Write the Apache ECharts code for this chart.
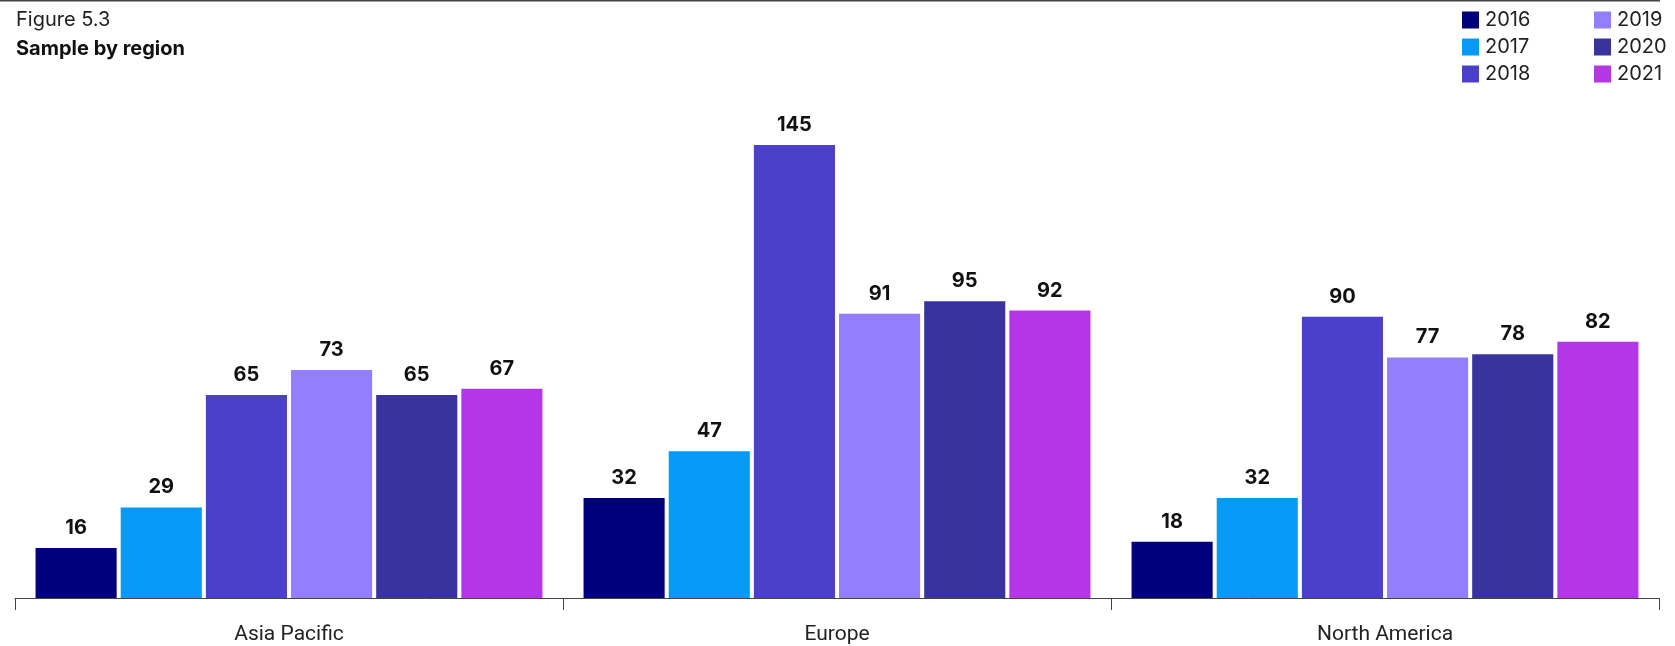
<!DOCTYPE html>
<html><head><meta charset="utf-8">
<script src="https://cdn.jsdelivr.net/npm/echarts@6/dist/echarts.min.js"></script>
<style>html,body{margin:0;padding:0;background:#fff}#c{width:1675px;height:646px}</style>
</head><body><div id="c"></div>
<script>
const categories = ['Asia Pacific', 'Europe', 'North America'];
const years = ['2016', '2017', '2018', '2019', '2020', '2021'];
const v2016 = [16, 32, 18];
const v2017 = [29, 47, 32];
const v2018 = [65, 145, 90];
const v2019 = [73, 91, 77];
const v2020 = [65, 95, 78];
const v2021 = [67, 92, 82];
const colors = ['#00007A', '#0699F8', '#4A40CA', '#937FFE', '#39339E', '#B536E5'];
const values = [v2016, v2017, v2018, v2019, v2020, v2021];

const chart = echarts.init(document.getElementById('c'));
const legendCommon = {
  orient: 'vertical', top: 5, itemWidth: 17, itemHeight: 17, itemGap: 7,
  icon: 'rect', selectedMode: false,
  textStyle: { fontFamily: 'Inter', fontSize: 20, lineHeight: 17, color: '#222', padding: [0, 0, 0, 1] }
};
chart.setOption({
  animation: false,
  color: colors,
  title: [
    { text: 'Figure 5.3', left: 11, top: 5, textStyle: { fontFamily: 'Inter', fontSize: 20, fontWeight: 'normal', color: '#222' } },
    { text: 'Sample by region', left: 11, top: 34, textStyle: { fontFamily: 'Inter', fontSize: 20, fontWeight: 'bold', color: '#111' } }
  ],
  graphic: [{ type: 'line', shape: { x1: 0, y1: 0.5, x2: 1660, y2: 0.5 }, style: { stroke: '#444', lineWidth: 2 } }],
  legend: [
    Object.assign({ left: 1457, data: years.slice(0, 3) }, legendCommon),
    Object.assign({ left: 1589, data: years.slice(3) }, legendCommon)
  ],
  grid: { left: 15, right: 16, top: 129.4, bottom: 48 },
  xAxis: {
    type: 'category', data: categories,
    axisLine: { lineStyle: { color: '#444', width: 1 } },
    axisTick: { show: true, length: 12, lineStyle: { color: '#444' } },
    axisLabel: { fontFamily: 'Roboto', fontSize: 21, color: '#222', margin: 26 }
  },
  yAxis: { type: 'value', min: 0, max: 150, show: false, splitLine: { show: false } },
  series: years.map((y, i) => ({
    name: y, type: 'bar', data: values[i],
    barGap: '5%', barCategoryGap: '7.5%',
    label: { show: true, position: 'top', distance: 10, fontFamily: 'Inter', fontWeight: 'bold', fontSize: 20, color: '#111' }
  }))
});
</script></body></html>
